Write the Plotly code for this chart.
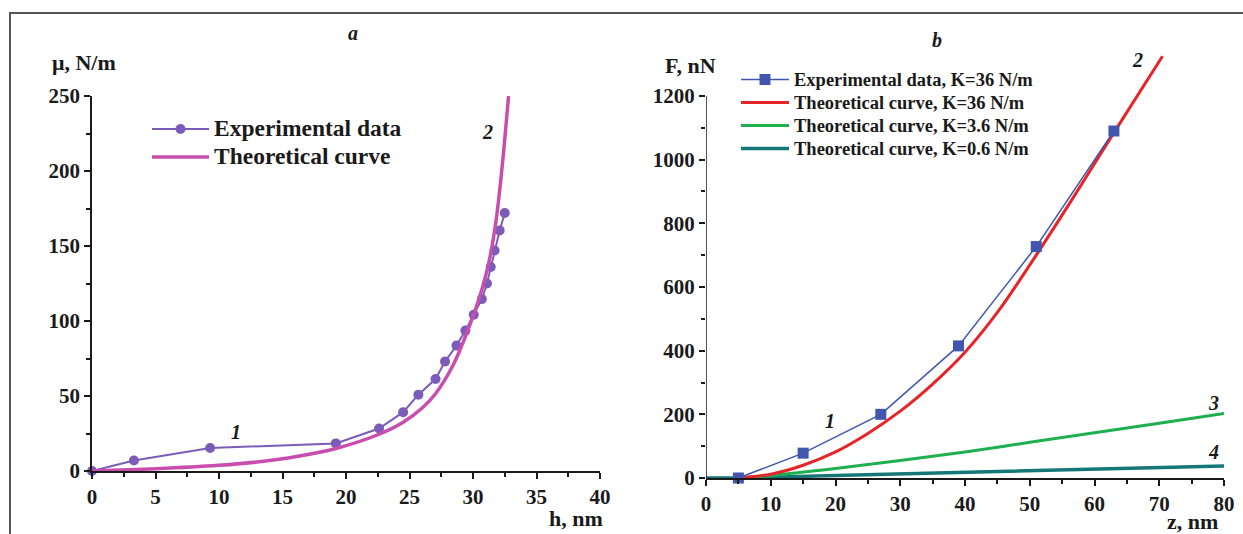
import plotly.graph_objects as go

# ---- Panel a data ----
h_exp = [0, 3.3, 9.3, 19.2, 22.6, 24.5, 25.7, 27.05, 27.8, 28.7, 29.4, 30.06, 30.7, 31.1, 31.4, 31.7, 32.1, 32.5]
mu_exp = [0, 7, 15.3, 18.4, 28.3, 39.2, 50.9, 61.3, 73, 83.6, 93.6, 104.2, 114.6, 125, 136, 147, 160.4, 172]
h_th = [0, 5, 10, 13, 16, 19.2, 22.6, 24.5, 26, 27, 28.4, 29.6, 30.7, 31.3, 31.8, 32.2, 32.5, 32.8]
mu_th = [0, 1.5, 3.8, 6, 9.5, 15, 24.5, 32.5, 42, 51, 70, 94, 121, 141, 166, 195, 221, 250]

# ---- Panel b data ----
z_exp = [5, 15, 27, 39, 51, 63]
F_exp = [0, 78, 200, 415, 727, 1090]
z_th36 = [5, 10, 15, 20, 25, 30, 35, 40, 45, 51, 57, 63, 70.5]
F_th36 = [0, 12, 40, 82, 140, 210, 295, 395, 520, 700, 890, 1085, 1325]
z_th3_6 = [5, 10, 20, 30, 40, 50, 60, 70, 80]
F_th3_6 = [0, 8, 30, 55, 82, 112, 142, 172, 203]
z_th0_6 = [0, 5, 20, 40, 60, 80]
F_th0_6 = [0, 0, 8, 18, 28, 38]

W, H = 1243, 534
def px(x):
    return x / W
def py(y):
    return 1 - y / H

SERIF = "Liberation Serif"
INK = "#1a1a1a"
TICKFONT = dict(family=SERIF, size=21, color=INK, weight="bold")

def big(name, size):
    return f'<span style="font-size:{size}px">{name}</span>'

fig = go.Figure()

fig.add_trace(go.Scatter(x=h_exp, y=mu_exp, mode="lines+markers", name=big("Experimental data", 23.5),
                         line=dict(color="#7B5CB8", width=2), marker=dict(color="#7B5CB8", size=10),
                         cliponaxis=False, xaxis="x", yaxis="y", legend="legend"))
fig.add_trace(go.Scatter(x=h_th, y=mu_th, mode="lines", name=big("Theoretical curve", 23.5),
                         line=dict(color="#C94DAE", width=3.5, shape="spline", smoothing=1.0),
                         xaxis="x", yaxis="y", legend="legend"))

fig.add_trace(go.Scatter(x=z_th0_6, y=F_th0_6, mode="lines", name=big("Theoretical curve, K=0.6 N/m", 18.5),
                         line=dict(color="#147878", width=3.5), xaxis="x2", yaxis="y2", legend="legend2",
                         legendrank=4))
fig.add_trace(go.Scatter(x=z_th3_6, y=F_th3_6, mode="lines", name=big("Theoretical curve, K=3.6 N/m", 18.5),
                         line=dict(color="#1EB04E", width=3, shape="spline"), xaxis="x2", yaxis="y2",
                         legend="legend2", legendrank=3))
fig.add_trace(go.Scatter(x=z_th36, y=F_th36, mode="lines", name=big("Theoretical curve, K=36 N/m", 18.5),
                         line=dict(color="#E6242A", width=3, shape="spline", smoothing=1.0), xaxis="x2", yaxis="y2",
                         legend="legend2", legendrank=2))
fig.add_trace(go.Scatter(x=z_exp, y=F_exp, mode="lines+markers", name=big("Experimental data, K=36 N/m", 18.5),
                         line=dict(color="#4256B0", width=1.5), marker=dict(color="#4256B0", size=11, symbol="square"),
                         cliponaxis=False, xaxis="x2", yaxis="y2", legend="legend2", legendrank=1))

axis_common = dict(showgrid=False, zeroline=False, showline=True, linecolor=INK, linewidth=1.5,
                   ticks="outside", ticklen=6, tickwidth=1.5, tickcolor=INK, tickfont=TICKFONT,
                   automargin=False)
minor_common = dict(ticks="outside", ticklen=4, tickwidth=1.5, tickcolor=INK)

fig.update_layout(
    template="none",
    autosize=False,
    width=W, height=H, margin=dict(l=0, r=0, t=0, b=0, pad=0),
    paper_bgcolor="white", plot_bgcolor="white", showlegend=True,
    xaxis=dict(domain=[px(92), px(600)], range=[0, 40], dtick=5, anchor="y",
               minor=dict(dtick=2.5, **minor_common), **axis_common),
    yaxis=dict(domain=[py(471), py(96)], range=[0, 250], dtick=50, anchor="x",
               minor=dict(dtick=25, **minor_common), **axis_common),
    xaxis2=dict(domain=[px(706), px(1224)], range=[0, 80], dtick=10, anchor="y2",
                minor=dict(dtick=5, **minor_common), **axis_common),
    yaxis2=dict(domain=[py(478), py(54.6)], range=[0, 1330], tickvals=[0, 200, 400, 600, 800, 1000, 1200],
                anchor="x2",
                minor=dict(tickvals=[100, 300, 500, 700, 900, 1100], **minor_common),
                **{**axis_common, "showline": False}),
    legend=dict(x=px(147), y=py(110), xanchor="left", yanchor="top", bgcolor="rgba(0,0,0,0)",
                font=dict(family=SERIF, size=19.2, color=INK, weight="bold"), tracegroupgap=0,
                itemwidth=57),
    legend2=dict(x=px(736), y=py(63), xanchor="left", yanchor="top", bgcolor="rgba(0,0,0,0)",
                 font=dict(family=SERIF, size=15.4, color=INK, weight="bold"), tracegroupgap=0,
                 itemwidth=48),
)

# y-axis line of panel b ends at 1200
fig.add_shape(type="line", xref="x2", yref="y2", x0=0, x1=0, y0=0, y1=1200,
              line=dict(color=INK, width=1.5))
# outer frame
fig.add_shape(type="rect", xref="paper", yref="paper", x0=px(10), x1=px(1260), y0=py(560), y1=py(13),
              line=dict(color="#555555", width=2))

ann_font = dict(family=SERIF, size=22, color=INK, weight="bold")
lab_font = dict(family=SERIF, size=20, color=INK, weight="bold", style="italic")
annots = [
    dict(text="μ, N/m", x=px(84), y=py(62), font=ann_font),
    dict(text="h, nm", x=px(576), y=py(518), font=ann_font),
    dict(text="F, nN", x=px(690), y=py(66), font=ann_font),
    dict(text="z, nm", x=px(1192), y=py(521), font=ann_font),
    dict(text="a", x=px(353), y=py(33), font=lab_font),
    dict(text="b", x=px(937), y=py(40), font=lab_font),
    dict(text="1", x=px(236), y=py(432), font=lab_font),
    dict(text="2", x=px(487), y=py(132), font=lab_font),
    dict(text="1", x=px(830), y=py(421), font=lab_font),
    dict(text="2", x=px(1137), y=py(60), font=lab_font),
    dict(text="3", x=px(1213), y=py(403), font=lab_font),
    dict(text="4", x=px(1213), y=py(452), font=lab_font),
]
for a in annots:
    fig.add_annotation(xref="paper", yref="paper", showarrow=False, xanchor="center", yanchor="middle", **a)

fig.write_html("out.html")
